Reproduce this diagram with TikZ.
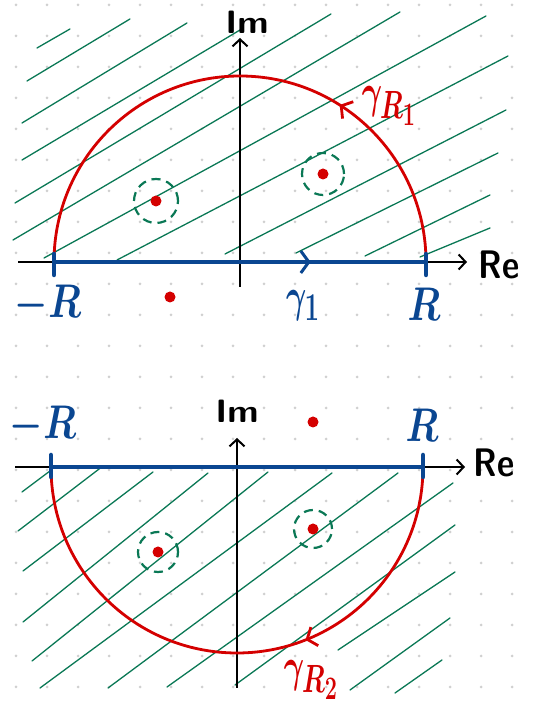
\documentclass[tikz,border=0pt]{standalone}
\usepackage{xcolor}
\usepackage{tikz}
\usetikzlibrary{arrows.meta,decorations.markings}
\definecolor{ContourBlue}{RGB}{10,70,145}
\definecolor{ArcRed}{RGB}{212,0,0}
\definecolor{HatchGreen}{RGB}{10,120,85}
\definecolor{GridGray}{RGB}{208,208,208}
% hand-sized labels (cm fonts stop at 24.88pt, so scale the box)
\newcommand{\bigR}[1]{\scalebox{1.5}[1.9]{#1}}
\newcommand{\bigG}[1]{\scalebox{1.25}[1.9]{#1}}
\newcommand{\axR}[1]{\scalebox{1.35}[1.6]{#1}}
\newcommand{\axI}[1]{\scalebox{1.45}[1.3]{#1}}

\begin{document}
\begin{tikzpicture}[
  x=1pt, y=1pt,
  axis/.style={line width=1.3pt, black,
    -{Straight Barb[length=7pt,width=15pt,line width=2pt]}},
  hatch/.style={HatchGreen, line width=1.3pt, line cap=round},
  contour/.style={ContourBlue, line width=4.5pt},
  bigarc/.style={ArcRed, line width=2.8pt},
  pole/.style={circle, fill=ArcRed, inner sep=0pt, minimum size=11pt},
  keyhole/.style={HatchGreen, dash pattern=on 9pt off 6pt, line width=2.2pt},
  lbl/.style={font=\fontsize{24.88}{25}\selectfont\boldmath, inner sep=0pt},
  axlbl/.style={font=\sffamily\bfseries\fontsize{24.88}{25}\selectfont, inner sep=0pt},
]
  \useasboundingbox (0,0) rectangle (538,708);

  % dotted paper
  \foreach \i in {0,...,16}
    \foreach \j in {0,...,22}
      \fill[GridGray] (16+31*\i,703-31*\j) circle (1.5pt);

  % ---------- upper half plane ----------
  \foreach \a/\b/\c/\d in {37/660/70/679, 27/627/130/689, 22/585/187/685,
      22/548/240/678, 15/505/331/694, 13/468/400/696, 44/450/486/692,
      117/448/508/652, 225/454/506/598, 296/455/498/555, 365/452/490/513,
      420/451/490/480}
    \draw[hatch] (\a,\b) -- (\c,\d);

  \coordinate (reA) at (18,446);
  \coordinate (reB) at (467,446);
  \coordinate (imA) at (240,421);
  \coordinate (imB) at (240,670);
  \draw[axis] (reA) -- (reB);
  \draw[axis] (imA) -- (imB);
  \node[axlbl] (reU) at (499,443) {\axR{Re}};
  \node[axlbl] (imU) at (247,686) {\axI{Im}};

  \coordinate (mRU) at (54,446);
  \coordinate (pRU) at (426,446);
  \draw[bigarc, postaction={decorate}, decoration={markings,
      mark=at position 0.32 with {\arrow{Straight Barb[length=8pt,width=20pt]}}}]
    (pRU) arc[start angle=0, end angle=180, radius=186];
  \draw[contour, postaction={decorate}, decoration={markings,
      mark=at position 0.69 with {\arrow{Straight Barb[length=8pt,width=22pt,line width=3pt]}}}]
    (mRU) -- (pRU);
  \draw[contour, line cap=round] ([yshift=-13pt]mRU) -- ([yshift=8pt]mRU);
  \draw[contour, line cap=round] ([yshift=-13pt]pRU) -- ([yshift=8pt]pRU);

  \node[pole] (p1) at (156,507) {};
  \node[pole] (p2) at (323,534) {};
  \node[pole] (p3) at (170,411) {};
  \draw[keyhole] (p1) circle (22pt);
  \draw[keyhole] (p2) circle (21pt);

  \node[lbl, text=ContourBlue] (mRUl) at (48,404) {\bigR{$-R$}};
  \node[lbl, text=ContourBlue] (pRUl) at (424,404) {\bigR{$R$}};
  \node[lbl, text=ContourBlue] (gam1) at (303,402) {\bigG{$\gamma_1$}};
  \node[lbl, text=ArcRed] (gamR1) at (389,602) {\bigG{$\gamma_{R_1}$}};

  % ---------- lower half plane ----------
  \foreach \a/\b/\c/\d in {22/216/50/237, 18/177/103/242, 23/137/153/236,
      23/86/208/235, 32/47/268/236, 40/20/332/235, 108/20/398/235,
      167/21/453/225, 235/23/455/183, 338/58/455/136, 350/18/450/90,
      395/15/442/48}
    \draw[hatch] (\a,\b) -- (\c,\d);

  \coordinate (reC) at (15,241);
  \coordinate (reD) at (465,241);
  \coordinate (imC) at (237,20);
  \coordinate (imD) at (237,270);
  \draw[axis] (reC) -- (reD);
  \draw[axis] (imC) -- (imD);
  \node[axlbl] (reL) at (494,245) {\axR{Re}};
  \node[axlbl] (imL) at (237,297) {\axI{Im}};

  \coordinate (mRL) at (51,241);
  \coordinate (pRL) at (423,241);
  \draw[bigarc, postaction={decorate}, decoration={markings,
      mark=at position 0.38 with {\arrow{Straight Barb[length=8pt,width=20pt]}}}]
    (pRL) arc[start angle=0, end angle=-180, radius=186];
  \draw[contour] (mRL) -- (pRL);
  \draw[contour, line cap=round] ([yshift=-10pt]mRL) -- ([yshift=12pt]mRL);
  \draw[contour, line cap=round] ([yshift=-10pt]pRL) -- ([yshift=12pt]pRL);

  \node[pole] (p4) at (313,286) {};
  \node[pole] (p5) at (313,179) {};
  \node[pole] (p6) at (158,156) {};
  \draw[keyhole] (p5) circle (19pt);
  \draw[keyhole] (p6) circle (20pt);

  \node[lbl, text=ContourBlue] (mRLl) at (43,283) {\bigR{$-R$}};
  \node[lbl, text=ContourBlue] (pRLl) at (422,283) {\bigR{$R$}};
  \node[lbl, text=ArcRed] (gamR2) at (311,28) {\bigG{$\gamma_{R_2}$}};
\end{tikzpicture}
\end{document}
